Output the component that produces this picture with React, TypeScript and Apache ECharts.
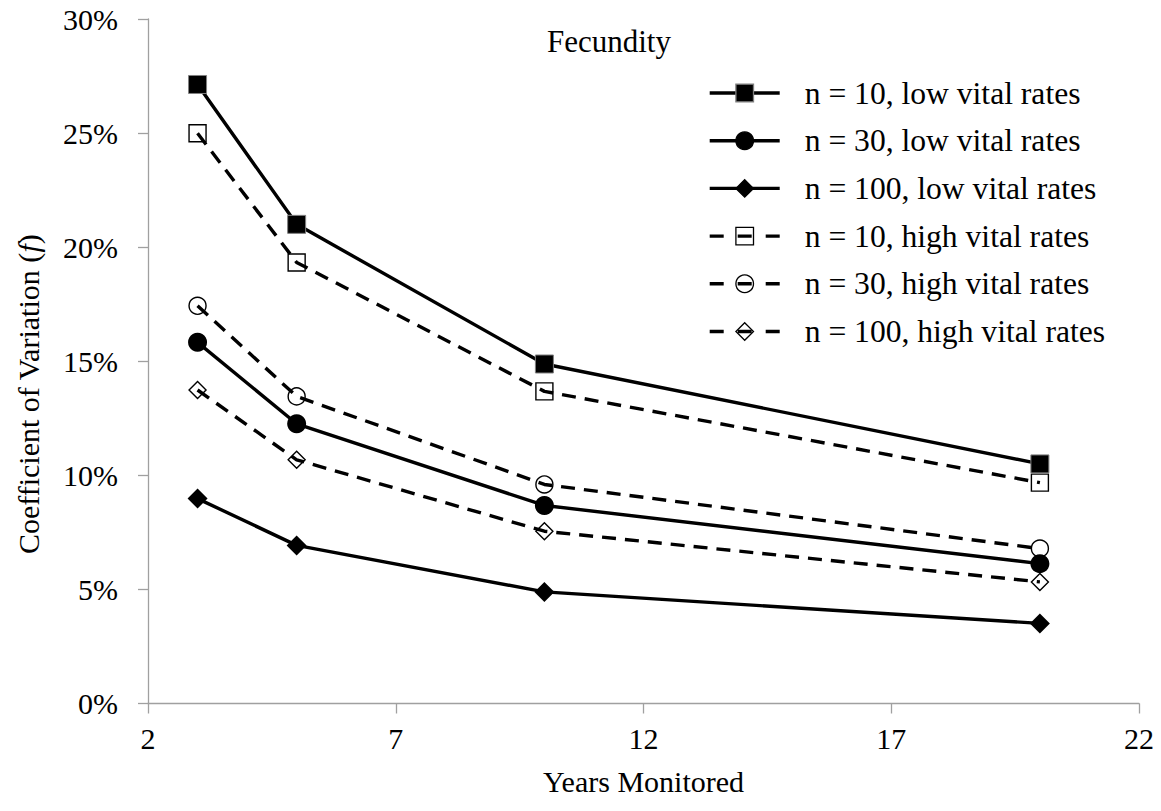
import React, { useEffect, useRef } from "react";
import * as echarts from "echarts";

const years = [3, 5, 10, 20];
const xTicks = [2, 7, 12, 17, 22];
const seriesNames = [
  "n = 10, low vital rates",
  "n = 30, low vital rates",
  "n = 100, low vital rates",
  "n = 10, high vital rates",
  "n = 30, high vital rates",
  "n = 100, high vital rates",
];
const n10Low = [27.13, 21.0, 14.88, 10.5];
const n30Low = [15.83, 12.26, 8.68, 6.13];
const n100Low = [8.98, 6.93, 4.89, 3.51];
const n10High = [24.99, 19.33, 13.68, 9.68];
const n30High = [17.43, 13.46, 9.6, 6.79];
const n100High = [13.74, 10.68, 7.55, 5.33];

const FONT = "'Liberation Serif', 'Times New Roman', serif";

export default function App() {
  const ref = useRef<HTMLDivElement>(null);
  useEffect(() => {
    if (!ref.current) return;
    const chart = echarts.init(ref.current, undefined, { renderer: "svg" });
    const pair = (vals: number[]) => years.map((y, i) => [y, vals[i]]);
    const solid = { color: "#000", width: 3.4, type: "solid" as const };
    const dashed = { color: "#000", width: 3.4, type: [14, 9] as any };
    const filled = (name: string, vals: number[], symbol: string, size: number, border?: string) => ({
      name,
      type: "line",
      data: pair(vals),
      symbol,
      symbolSize: size,
      showAllSymbol: true,
      lineStyle: solid,
      itemStyle: { color: "#000", borderColor: border || "#000", borderWidth: border ? 1 : 0 },
      z: 3,
    });
    const hollow = (name: string, vals: number[], symbol: string, size: number) => ({
      name,
      type: "line",
      data: pair(vals),
      symbol,
      symbolSize: size,
      showAllSymbol: true,
      lineStyle: dashed,
      itemStyle: { color: "rgba(255,255,255,0)", borderColor: "#000", borderWidth: 1.4 },
      z: 2,
    });
    const legendData = seriesNames.map((name, i) =>
      i < 3
        ? { name, lineStyle: { width: 3.4, type: "solid" } }
        : { name, lineStyle: { width: 3.4, type: [14, 14] } }
    );
    chart.setOption({
      animation: false,
      backgroundColor: "#fff",
      textStyle: { fontFamily: FONT, color: "#000" },
      title: {
        text: "Fecundity",
        left: 542,
        top: 21,
        textStyle: { fontFamily: FONT, fontSize: 31, fontWeight: "normal", color: "#000" },
      },
      legend: {
        orient: "vertical",
        left: 703,
        top: 72,
        itemWidth: 70,
        itemHeight: 22,
        itemGap: 15.7,
        data: legendData,
        lineStyle: { width: 3.4 },
        itemStyle: { borderWidth: 1.3 },
        textStyle: { fontFamily: FONT, fontSize: 31.6, color: "#000", padding: [0, 0, 0, 20] },
      },
      grid: { left: 148, right: 22, top: 19, bottom: 107.5, containLabel: false },
      xAxis: {
        type: "value",
        min: 2,
        max: 22,
        name: "Years Monitored",
        nameLocation: "middle",
        nameGap: 63,
        nameTextStyle: { fontFamily: FONT, fontSize: 30, color: "#000" },
        axisLine: { lineStyle: { color: "#a0a0a0", width: 1.3 } },
        axisTick: { show: true, length: 10, inside: false, customValues: xTicks, lineStyle: { color: "#a0a0a0", width: 1.3 } },
        axisLabel: { customValues: xTicks, margin: 20, fontFamily: FONT, fontSize: 30, color: "#000" },
        splitLine: { show: false },
      },
      yAxis: {
        type: "value",
        min: 0,
        max: 30,
        interval: 5,
        name: "Coefficient of Variation ({i|f})",
        nameLocation: "middle",
        nameGap: 105,
        nameTextStyle: {
          fontFamily: FONT,
          fontSize: 30,
          color: "#000",
          padding: [0, 66, 0, 0],
          rich: { i: { fontFamily: FONT, fontSize: 30, fontStyle: "italic", color: "#000" } },
        },
        axisLine: { show: true, lineStyle: { color: "#a0a0a0", width: 1.3 } },
        axisTick: { show: true, length: 10, inside: false, lineStyle: { color: "#a0a0a0", width: 1.3 } },
        axisLabel: { formatter: "{value}%", margin: 30, fontFamily: FONT, fontSize: 30, color: "#000" },
        splitLine: { show: false },
      },
      series: [
        filled(seriesNames[0], n10Low, "rect", 18, "#808080"),
        filled(seriesNames[1], n30Low, "circle", 19),
        filled(seriesNames[2], n100Low, "diamond", 20),
        hollow(seriesNames[3], n10High, "rect", 17),
        hollow(seriesNames[4], n30High, "circle", 17),
        hollow(seriesNames[5], n100High, "diamond", 17),
      ],
    });
    return () => chart.dispose();
  }, []);
  return (
    <div
      ref={ref}
      style={{ position: "absolute", left: 0, top: 0, width: 1161, height: 811, background: "#fff" }}
    />
  );
}
